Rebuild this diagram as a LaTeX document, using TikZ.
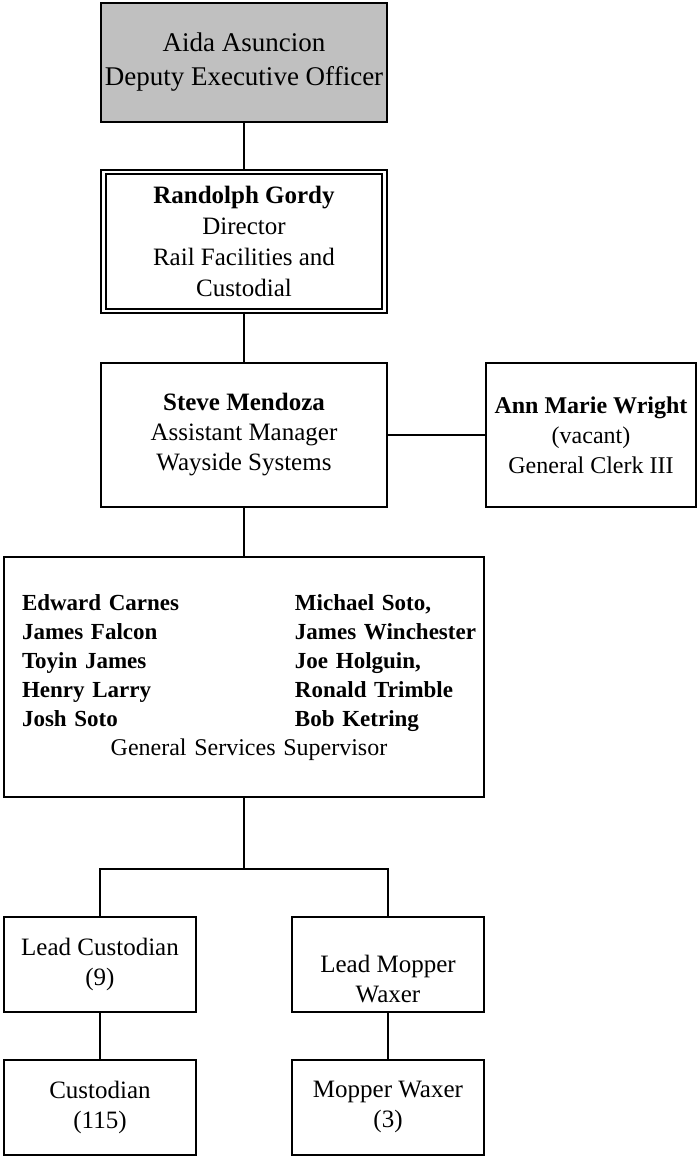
\documentclass[tikz,border=0pt]{standalone}
\usepackage{fontspec}
\setmainfont{Liberation Serif}
\usepackage{array}
\usetikzlibrary{positioning}
\definecolor{headgray}{HTML}{C0C0C0}

\begin{document}
\begin{tikzpicture}[
    x=1pt, y=1pt,
    node distance=48pt,
    every node/.style={font=\fontsize{25}{30}\selectfont},
    unit/.style={draw, line width=2pt, align=center, inner sep=0pt, minimum width=286pt, minimum height=144pt},
    head/.style={unit, fill=headgray, minimum height=119pt, font=\fontsize{27}{34}\selectfont},
    director/.style={unit, double, double distance=2.6pt, line width=1.8pt, minimum width=281pt, minimum height=139pt, font=\fontsize{25}{31}\selectfont},
    clerk/.style={unit, minimum width=210pt, font=\fontsize{24}{30}\selectfont},
    staffbox/.style={unit, minimum width=480pt, minimum height=240pt, text width=444pt, align=left, font=\fontsize{23}{29}\selectfont},
    lead/.style={unit, minimum width=192pt, minimum height=95pt},
    link/.style={line width=2pt}
]
\useasboundingbox (0,0) rectangle (698,-1160);

\node[head] (aida) at (244,-62.5) {Aida Asuncion\\Deputy Executive Officer};
\node[director, below=of aida] (gordy) {\textbf{Randolph Gordy}\\Director\\Rail Facilities and\\Custodial};
\node[unit, below=50pt of gordy] (mendoza) {\textbf{Steve Mendoza}\\Assistant Manager\\Wayside Systems};
\node[clerk, right=97pt of mendoza] (wright) {\textbf{Ann Marie Wright}\\(vacant)\\General Clerk III};
\node[staffbox, below=of mendoza] (supervisors) {%
  \begin{tabular}{@{}p{273pt}@{}l@{}}
  \textbf{Edward Carnes} & \textbf{Michael Soto,}\\
  \textbf{James Falcon}  & \textbf{James Winchester}\\
  \textbf{Toyin James}   & \textbf{Joe Holguin,}\\
  \textbf{Henry Larry}   & \textbf{Ronald Trimble}\\
  \textbf{Josh Soto}     & \textbf{Bob Ketring}\\
  \multicolumn{2}{@{}c@{}}{\fontsize{24}{29}\selectfont General Services Supervisor}
  \end{tabular}};
\node[lead, below right=118pt and 0pt of supervisors.south west] (leadcust) {Lead Custodian\\(9)};
\node[lead, below left=118pt and 0pt of supervisors.south east,
      label={[name=leadmoptext, align=center, yshift=-15pt]center:Lead Mopper\\Waxer}] (leadmop) {};
\node[lead, below=46pt of leadcust] (cust) {Custodian\\(115)};
\node[lead, below=46pt of leadmop] (mopper) {Mopper Waxer\\(3)};

\draw[link] (aida) -- (gordy);
\draw[link] (gordy) -- (mendoza);
\draw[link] (mendoza) -- (wright);
\draw[link] (mendoza) -- (supervisors);
\draw[link] (supervisors.south) -- ++(0,-71) coordinate (fork);
\draw[link] (leadcust.north) |- (fork) -| (leadmop.north);
\draw[link] (leadcust) -- (cust);
\draw[link] (leadmop) -- (mopper);
\end{tikzpicture}
\end{document}
